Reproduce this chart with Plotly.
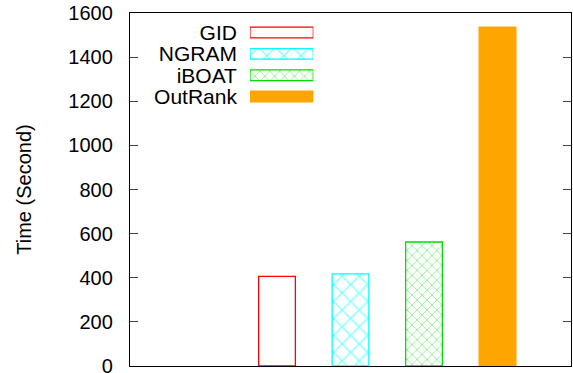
import plotly.graph_objects as go

methods = ["GID", "NGRAM", "iBOAT", "OutRank"]
times = [406, 418, 562, 1536]
colors = ["#FF0000", "#00FFFF", "#00E000", "#FFA500"]
fills = ["white", "white", "white", "#FFA500"]
patterns = ["", "x", "x", ""]
pattern_sizes = [8, 12, 7, 8]
y_ticks = [0, 200, 400, 600, 800, 1000, 1200, 1400, 1600]

FONT = "Liberation Sans, Arial, Helvetica, sans-serif"
fig = go.Figure()

for i, m in enumerate(methods):
    pat = dict(shape=patterns[i], size=pattern_sizes[i], solidity=0.22,
               fgcolor=colors[i], bgcolor=fills[i], fillmode="overlay") if patterns[i] else None
    mk = dict(color=fills[i], line=dict(color=colors[i], width=1.3))
    if pat:
        mk["pattern"] = pat
    fig.add_trace(go.Bar(x=[m], y=[times[i]], width=0.5, marker=mk, showlegend=False,
                         xaxis="x", yaxis="y"))
    fig.add_trace(go.Bar(y=[len(methods) - 1 - i], x=[1], base=0, orientation="h", width=0.5,
                         marker=mk, showlegend=False, xaxis="x2", yaxis="y2"))

fig.update_layout(
    width=573, height=373,
    margin=dict(l=130, r=2, t=13, b=7, autoexpand=False),
    plot_bgcolor="white", paper_bgcolor="white",
    font=dict(family=FONT, size=20, color="black"),
    barmode="overlay",
    xaxis=dict(type="category", categoryorder="array", categoryarray=methods,
               range=[-2, 4], showticklabels=False, ticks="", automargin=False,
               showline=True, mirror=True, linecolor="black", linewidth=1.3,
               showgrid=False, zeroline=False, fixedrange=True),
    yaxis=dict(range=[0, 1600], tickvals=y_ticks, ticks="inside", ticklen=8,
               tickcolor="#444", tickwidth=1, showline=True, mirror="ticks",
               linecolor="black", linewidth=1.3, showgrid=False, zeroline=False,
               ticklabelstandoff=12, automargin=False, ticklabeloverflow="allow",
               title=dict(text="Time (Second)", standoff=31, font=dict(size=20))),
    xaxis2=dict(domain=[0.272, 0.4157], range=[0, 1], visible=False, anchor="y2",
                automargin=False),
    yaxis2=dict(domain=[0.733, 0.975], range=[-0.5, 3.5], anchor="x2",
                tickvals=[3, 2, 1, 0], ticktext=methods, showline=False,
                showgrid=False, zeroline=False, ticks="", ticklabelstandoff=12,
                automargin=False, tickfont=dict(size=21)),
)

fig.write_html("out.html", config={"displayModeBar": False},
               post_script="document.body.style.margin='0';document.body.style.padding='0';")
